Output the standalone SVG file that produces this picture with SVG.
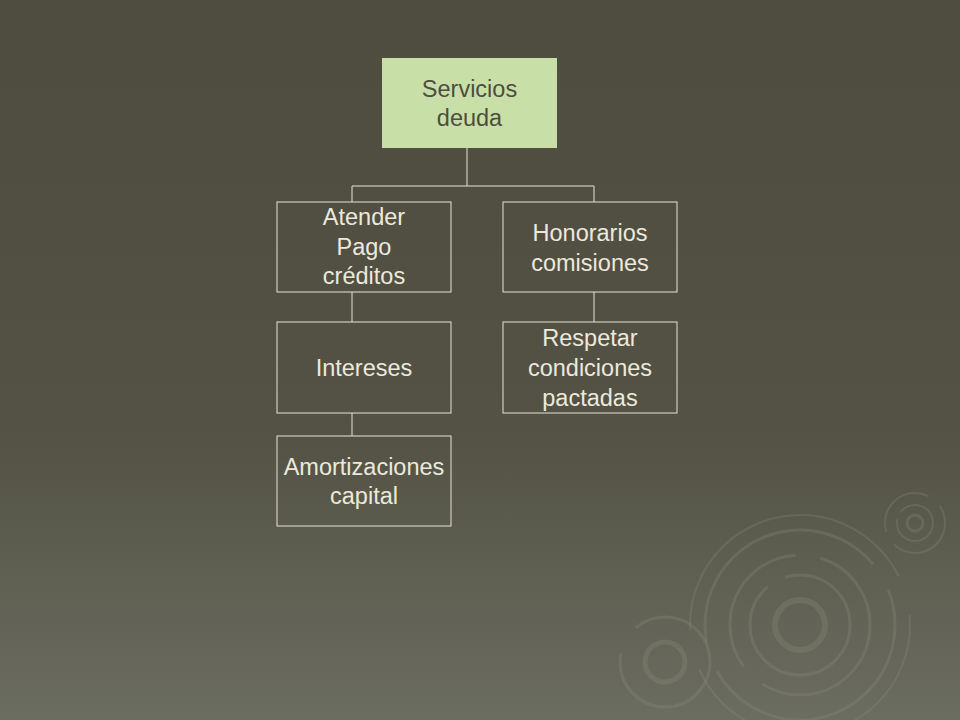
<svg xmlns="http://www.w3.org/2000/svg" width="960" height="720" viewBox="0 0 960 720">
<defs>
<linearGradient id="bg" x1="0" y1="0" x2="0" y2="1">
<stop offset="0" stop-color="#4f4c40"/>
<stop offset="0.6" stop-color="#535244"/>
<stop offset="1" stop-color="#6b6d60"/>
</linearGradient>
<style>
.box{fill:none;stroke:#e6e3d6;stroke-width:1}
.t{font-family:"Liberation Sans",Arial,sans-serif;font-size:23.5px;fill:#ece9dc;text-anchor:middle}
.c{stroke:#e6e3d6;stroke-width:1;fill:none}
.r{fill:none;stroke:#8a8c7c;stroke-opacity:0.3}
</style>
</defs>
<rect width="960" height="720" fill="url(#bg)"/>
<g id="ripples">
<circle class="r" cx="915" cy="523" r="8" stroke-width="3"/>
<circle class="r" cx="915" cy="523" r="18" stroke-width="2" stroke-dasharray="60 8"/>
<circle class="r" cx="915" cy="523" r="30" stroke-width="2" stroke-dasharray="70 15"/>
<circle class="r" cx="800" cy="625" r="25" stroke-width="6"/>
<circle class="r" cx="800" cy="625" r="50" stroke-width="3" stroke-dasharray="200 20"/>
<circle class="r" cx="800" cy="625" r="70" stroke-width="3" stroke-dasharray="150 25"/>
<circle class="r" cx="800" cy="625" r="95" stroke-width="3" stroke-dasharray="250 30"/>
<circle class="r" cx="800" cy="625" r="110" stroke-width="2" stroke-dasharray="300 40"/>
<circle class="r" cx="665" cy="662" r="20" stroke-width="5"/>
<circle class="r" cx="665" cy="662" r="45" stroke-width="3" stroke-dasharray="150 30"/>
</g>
<g id="connectors">
<path class="c" d="M467 148V186M352 202V186H594V202M352 292V322M352 413V436M594 292V322"/>
</g>
<g id="n-servicios">
<rect x="382" y="58" width="175" height="90" fill="#c8e0a8"/>
<text class="t" x="469.5" y="97" style="fill:#4f4c40">Servicios</text>
<text class="t" x="469.5" y="126" style="fill:#4f4c40">deuda</text>
</g>
<g id="n-atender">
<rect class="box" x="277" y="202" width="174" height="90"/>
<text class="t" x="364" y="225">Atender</text>
<text class="t" x="364" y="255">Pago</text>
<text class="t" x="364" y="284">créditos</text>
</g>
<g id="n-honorarios">
<rect class="box" x="503" y="202" width="174" height="90"/>
<text class="t" x="590" y="241">Honorarios</text>
<text class="t" x="590" y="271">comisiones</text>
</g>
<g id="n-intereses">
<rect class="box" x="277" y="322" width="174" height="91"/>
<text class="t" x="364" y="376">Intereses</text>
</g>
<g id="n-respetar">
<rect class="box" x="503" y="322" width="174" height="91"/>
<text class="t" x="590" y="346">Respetar</text>
<text class="t" x="590" y="376">condiciones</text>
<text class="t" x="590" y="406">pactadas</text>
</g>
<g id="n-amortizaciones">
<rect class="box" x="277" y="436" width="174" height="90"/>
<text class="t" x="364" y="475">Amortizaciones</text>
<text class="t" x="364" y="504">capital</text>
</g>
</svg>
